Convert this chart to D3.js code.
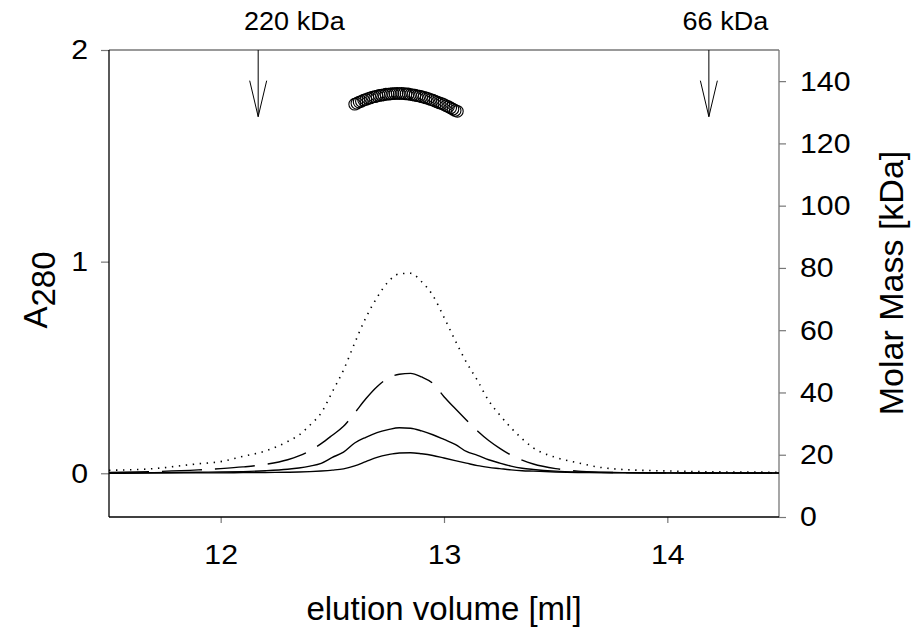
<!DOCTYPE html>
<html>
<head>
<meta charset="utf-8">
<script src="https://cdn.jsdelivr.net/npm/d3@7"></script>
<style>
html,body{margin:0;padding:0;background:#fff;}
svg{display:block;font-family:"Liberation Sans",Arial,sans-serif;}
</style>
</head>
<body>
<svg id="chart" width="914" height="628"></svg>
<script>
// ---- data ----
const volume = [11.5,11.7,11.9,12.0,12.1,12.2,12.3,12.35,12.4,12.45,12.5,12.55,12.6,12.65,12.7,12.75,12.8,12.85,12.9,12.95,13.0,13.05,13.1,13.15,13.2,13.25,13.3,13.35,13.4,13.5,13.6,13.7,13.8,14.0,14.2,14.5];
const a280Dotted = [0.014,0.022,0.045,0.055,0.080,0.105,0.150,0.180,0.228,0.285,0.385,0.488,0.615,0.735,0.830,0.905,0.942,0.945,0.905,0.840,0.737,0.628,0.525,0.438,0.343,0.275,0.215,0.163,0.120,0.075,0.049,0.028,0.018,0.011,0.007,0.005];
const a280Dashed = [0.004,0.008,0.016,0.022,0.030,0.042,0.064,0.082,0.106,0.140,0.180,0.222,0.285,0.352,0.409,0.450,0.468,0.472,0.455,0.425,0.362,0.306,0.252,0.200,0.155,0.118,0.086,0.062,0.044,0.022,0.010,0.005,0.003,0.002,0.001,0.001];
const a280Solid1 = [0.002,0.003,0.005,0.006,0.008,0.012,0.019,0.025,0.034,0.047,0.075,0.100,0.143,0.170,0.192,0.206,0.215,0.213,0.200,0.182,0.160,0.137,0.103,0.085,0.064,0.048,0.034,0.024,0.018,0.010,0.006,0.004,0.003,0.002,0.001,0.001];
const a280Solid2 = [0.000,0.001,0.002,0.002,0.003,0.004,0.005,0.006,0.008,0.011,0.015,0.021,0.035,0.055,0.075,0.088,0.096,0.097,0.092,0.084,0.072,0.060,0.048,0.036,0.028,0.022,0.016,0.012,0.010,0.006,0.004,0.003,0.002,0.001,0.001,0.001];

const massVolume = [12.60,12.61,12.62,12.63,12.64,12.65,12.66,12.67,12.68,12.69,12.70,12.71,12.72,12.73,12.74,12.75,12.76,12.77,12.78,12.79,12.80,12.81,12.82,12.83,12.84,12.85,12.86,12.87,12.88,12.89,12.90,12.91,12.92,12.93,12.94,12.95,12.96,12.97,12.98,12.99,13.00,13.01,13.02,13.03,13.04,13.05,13.06];
const molarMass = [132.6,132.9,133.3,133.5,133.9,134.1,134.4,134.6,134.9,135.0,135.2,135.4,135.5,135.6,135.8,135.8,135.9,136.0,136.0,136.1,136.0,136.1,136.0,135.9,135.9,135.7,135.6,135.5,135.3,135.2,135.0,134.8,134.6,134.4,134.1,133.9,133.6,133.3,133.0,132.8,132.5,132.1,131.8,131.4,131.0,130.6,130.3];

const xTicks = [12,13,14];
const yLeftTicks = [0,1,2];
const yRightTicks = [0,20,40,60,80,100,120,140];
const markers = [{label:"220 kDa", at:12.168, labelAt:12.33},{label:"66 kDa", at:14.186, labelAt:14.26}];

// ---- layout ----
const L=109, R=779, T=50, B=517;
const svg = d3.select("#chart");
const x = d3.scaleLinear().domain([11.5,14.5]).range([L,R]);
const yL = d3.scaleLinear().domain([-0.2066,2]).range([B,T]);
const yR = d3.scaleLinear().domain([0,150]).range([B,T]);

const tickFont = 28;
const stretch = 1.08;
function widen(sel){
  sel.each(function(){
    const w = this.getComputedTextLength();
    d3.select(this).attr("textLength", w*stretch).attr("lengthAdjust","spacingAndGlyphs");
  });
}
// left axis
const gl = svg.append("g").attr("transform",`translate(${L},0)`)
  .call(d3.axisLeft(yL).tickValues(yLeftTicks).tickFormat(d3.format("d")).tickSize(8).tickPadding(13));
// right axis
const gr = svg.append("g").attr("transform",`translate(${R},0)`)
  .call(d3.axisRight(yR).tickValues(yRightTicks).tickFormat(d3.format("d")).tickSize(7).tickPadding(14));
// bottom axis
const gb = svg.append("g").attr("transform",`translate(0,${B})`)
  .call(d3.axisBottom(x).tickValues(xTicks).tickFormat(d3.format("d")).tickSize(6).tickPadding(21));
[gl,gr,gb].forEach(g=>{
  g.select(".domain").remove();
  g.selectAll(".tick line").attr("stroke","#777").attr("stroke-width",1.2);
  g.selectAll(".tick text").attr("fill","#000").style("font-size",tickFont+"px")
   .style("font-family","Liberation Sans, Arial, sans-serif").call(widen);
});
// frame
svg.append("line").attr("x1",L).attr("x2",R).attr("y1",T).attr("y2",T).attr("stroke","#777").attr("stroke-width",1.3);
svg.append("line").attr("x1",R).attr("x2",R).attr("y1",T).attr("y2",B).attr("stroke","#777").attr("stroke-width",1.3);
svg.append("line").attr("x1",L).attr("x2",L).attr("y1",T).attr("y2",B).attr("stroke","#000").attr("stroke-width",1.3);
svg.append("line").attr("x1",L).attr("x2",R).attr("y1",B).attr("y2",B).attr("stroke","#000").attr("stroke-width",1.3);

// traces
const line = d3.line().x(d=>x(d[0])).y(d=>yL(d[1])).curve(d3.curveMonotoneX);
const traces = [
  {v:a280Dotted, dash:"1.4 5.6", w:1.6},
  {v:a280Dashed, dash:"40 13", w:1.4},
  {v:a280Solid1, dash:null, w:1.4},
  {v:a280Solid2, dash:null, w:1.4}
];
traces.forEach(t=>{
  svg.append("path").datum(volume.map((v,i)=>[v,t.v[i]]))
    .attr("d",line).attr("fill","none").attr("stroke","#000")
    .attr("stroke-width",t.w).attr("stroke-dasharray",t.dash);
});

// molar mass circles
svg.append("g").selectAll("circle").data(massVolume.map((v,i)=>[v,molarMass[i]])).join("circle")
  .attr("cx",d=>x(d[0])).attr("cy",d=>yR(d[1])).attr("r",5.8)
  .attr("fill","none").attr("stroke","#000").attr("stroke-width",1.1);

// markers
markers.forEach(m=>{
  const ax = x(m.at), y0 = yL(2), y1 = yL(1.685);
  svg.append("line").attr("x1",ax).attr("x2",ax).attr("y1",y0).attr("y2",y1).attr("stroke","#000").attr("stroke-width",1);
  svg.append("path").attr("d",`M${ax-8.5},${y1-36}L${ax},${y1}L${ax+8.5},${y1-36}`).attr("fill","none").attr("stroke","#000").attr("stroke-width",1);
  svg.append("text").attr("x",x(m.labelAt)).attr("y",30).attr("text-anchor","middle")
    .style("font-size","25px").text(m.label).call(widen);
});

// axis titles
svg.append("text").attr("x",(L+R)/2).attr("y",620).attr("text-anchor","middle").style("font-size","33px").text("elution volume [ml]");
const at = svg.append("text").attr("transform","translate(47,290) rotate(-90)").attr("text-anchor","middle").style("font-size","33px");
at.append("tspan").text("A");
at.append("tspan").attr("dy",8).text("280");
svg.append("text").attr("transform","translate(903,283) rotate(-90)").attr("text-anchor","middle").style("font-size","34px").text("Molar Mass [kDa]");
</script>
</body>
</html>
